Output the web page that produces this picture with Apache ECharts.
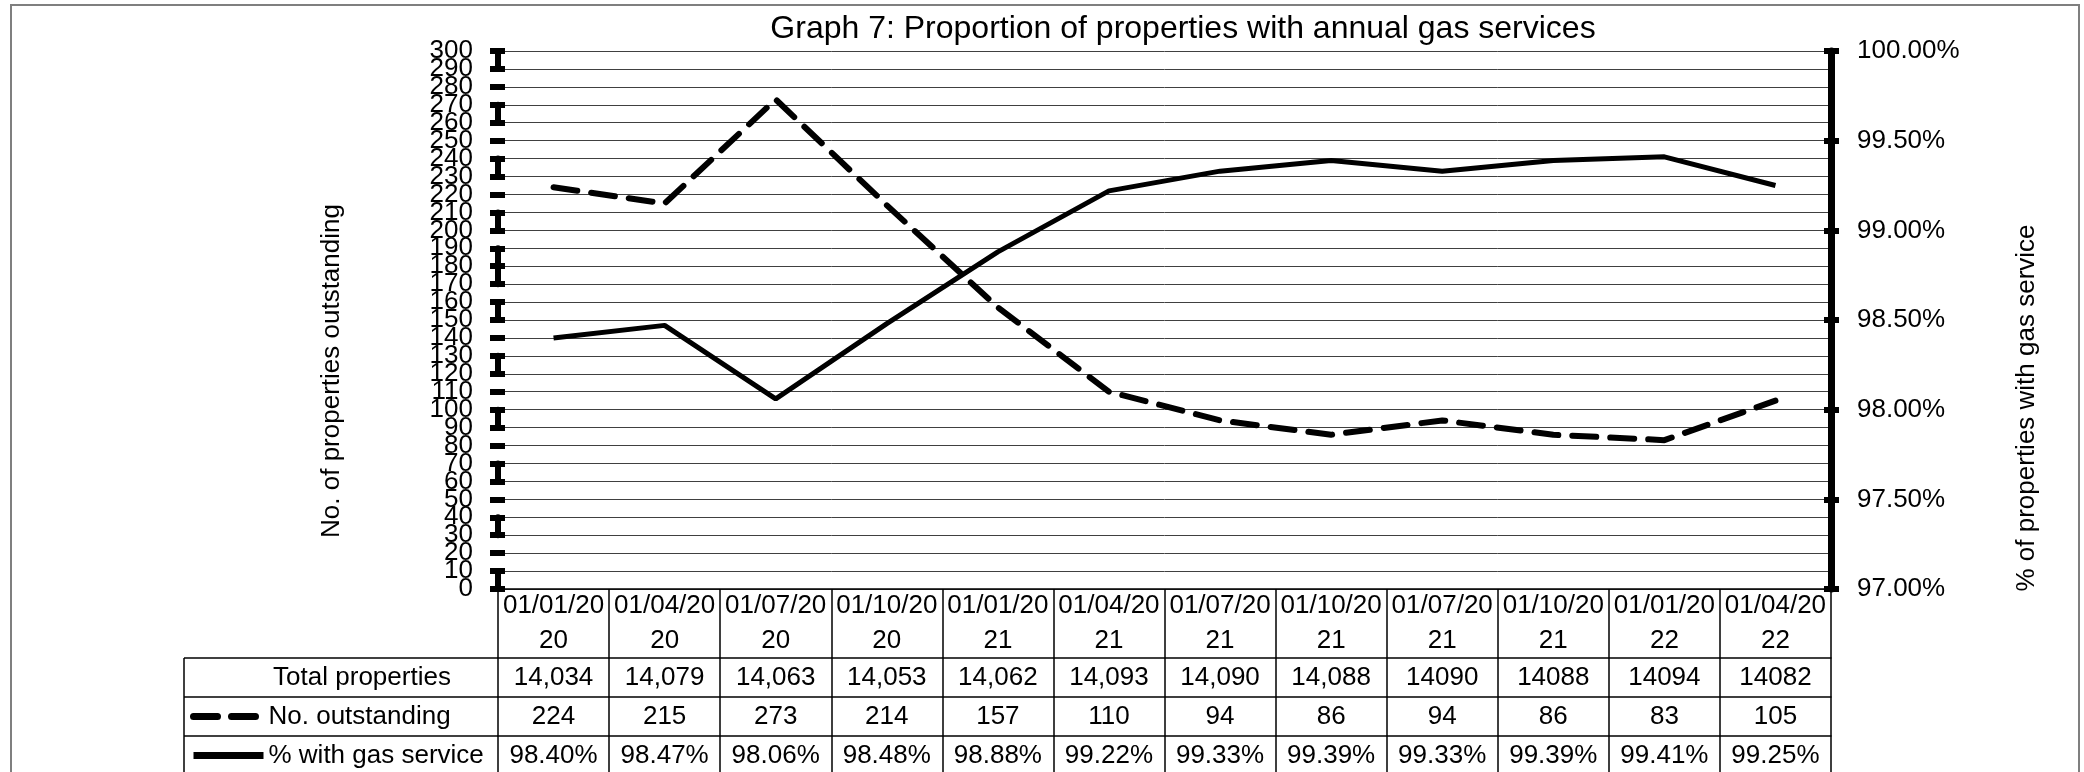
<!DOCTYPE html>
<html>
<head>
<meta charset="utf-8">
<script src="https://cdn.jsdelivr.net/npm/echarts@6/dist/echarts.min.js"></script>
<style>
  html, body { margin: 0; padding: 0; background: #fff; }
  #chart { width: 2084px; height: 772px; }
</style>
</head>
<body>
<div id="chart"></div>
<script>
// ---- data ----
const quarters = ['01/01/2020', '01/04/2020', '01/07/2020', '01/10/2020', '01/01/2021', '01/04/2021',
                  '01/07/2021', '01/10/2021', '01/07/2021', '01/10/2021', '01/01/2022', '01/04/2022'];
const totalProperties = ['14,034', '14,079', '14,063', '14,053', '14,062', '14,093',
                         '14,090', '14,088', '14090', '14088', '14094', '14082'];
const outstanding = [224, 215, 273, 214, 157, 110, 94, 86, 94, 86, 83, 105];
const pctWithService = [98.40, 98.47, 98.06, 98.48, 98.88, 99.22, 99.33, 99.39, 99.33, 99.39, 99.41, 99.25];

const countScale = { min: 0, max: 300, interval: 10 };
const pctScale = { min: 97, max: 100, interval: 0.5 };

const titleText = 'Graph 7: Proportion of properties with annual gas services';
const leftAxisName = 'No. of properties outstanding';
const rightAxisName = '% of properties with gas service';
const rowLabels = ['Total properties', 'No. outstanding', '% with gas service'];

// ---- layout ----
const FONT = '"Liberation Sans", Arial, sans-serif';
const GRID = { left: 498, right: 253, top: 51, bottom: 183 };
const PLOT_H = 772 - GRID.top - GRID.bottom;
const UNIT = PLOT_H / ((countScale.max - countScale.min) / countScale.interval);
const HEADER_H = 69;
const ROW_H = 39;
const AXIS_Y = 772 - GRID.bottom;
const TABLE_LEFT = 184;

// dash pattern of the left axis line, in tick steps, drawn from the bottom up
const leftAxisDash = [1, 2, 1, 2, 1, 2, 1, 2, 1, 2, 1, 1, 2, 1, 1, 2, 1, 2, 1, 2, 1].map(s => s * UNIT);

const leftLabelStyle = { margin: 25, fontSize: 26, color: '#000', fontFamily: FONT, hideOverlap: false };

// one row of the data table, drawn as an extra category axis under the plot
function tableRowAxis(data, offset, formatter) {
  return {
    type: 'category', gridIndex: 0, position: 'bottom', offset: offset,
    data: data, boundaryGap: true,
    axisLine: { show: true, onZero: false, lineStyle: { color: '#000', width: 1.5 } },
    axisTick: { show: true, interval: 0, length: ROW_H, lineStyle: { color: '#000', width: 1.5 } },
    axisLabel: { interval: 0, margin: 0, fontSize: 26, lineHeight: ROW_H, color: '#000',
                 fontFamily: FONT, hideOverlap: false, formatter: formatter },
    splitLine: { show: false }
  };
}

// tick-only companion axis (ticks cross the axis line: one axis per side of it)
function tickAxis(position, scale, inside, extraLabel) {
  return {
    type: 'value', position: position, min: scale.min, max: scale.max, interval: scale.interval,
    axisLine: { show: false },
    axisTick: { show: true, inside: inside, length: inside ? 7 : 8, lineStyle: { color: '#000', width: 6 } },
    axisLabel: extraLabel || { show: false },
    splitLine: { show: false }
  };
}

const chart = echarts.init(document.getElementById('chart'), null, { renderer: 'canvas' });

const option = {
  animation: false,
  backgroundColor: '#fff',
  textStyle: { fontFamily: FONT },
  title: {
    text: titleText,
    left: 1183, top: 13, padding: 0, textAlign: 'center',
    textStyle: { fontSize: 32, fontWeight: 'normal', color: '#000', fontFamily: FONT }
  },
  legend: {
    orient: 'vertical', left: 190, top: AXIS_Y + HEADER_H + ROW_H + 4.5, padding: 0, itemGap: 9,
    itemWidth: 70, itemHeight: 14, selectedMode: false,
    data: [rowLabels[1], rowLabels[2]],
    textStyle: { fontSize: 26, color: '#000', lineHeight: 30, fontFamily: FONT },
    itemStyle: { opacity: 0 },
    lineStyle: { width: 7 }
  },
  grid: { left: GRID.left, right: GRID.right, top: GRID.top, bottom: GRID.bottom,
          containLabel: false, outerBoundsMode: 'none' },
  xAxis: [
    {
      type: 'category', position: 'bottom', data: quarters, boundaryGap: true,
      axisLine: { show: true, onZero: false, lineStyle: { color: '#000', width: 1.5 } },
      axisTick: { show: true, interval: 0, length: HEADER_H, lineStyle: { color: '#000', width: 1.5 } },
      axisLabel: { interval: 0, margin: 0, fontSize: 26, lineHeight: HEADER_H / 2, color: '#000',
                   fontFamily: FONT, hideOverlap: false,
                   formatter: v => v.slice(0, 8) + '\n' + v.slice(8) },
      splitLine: { show: false }
    },
    tableRowAxis(totalProperties, HEADER_H),
    tableRowAxis(outstanding.map(String), HEADER_H + ROW_H),
    tableRowAxis(pctWithService.map(v => v.toFixed(2) + '%'), HEADER_H + 2 * ROW_H)
  ],
  yAxis: [
    {
      // main count axis: dashed line, grid lines and the inner labels
      type: 'value', position: 'left',
      min: countScale.min, max: countScale.max, interval: countScale.interval,
      axisLine: { show: true, onZero: false,
                  lineStyle: { color: '#000', width: 6, type: leftAxisDash } },
      axisTick: { show: false },
      axisLabel: Object.assign({ showMinLabel: false, showMaxLabel: false }, leftLabelStyle),
      splitLine: { show: true, lineStyle: { color: '#404040', width: 1 } }
    },
    {
      type: 'value', position: 'right',
      min: pctScale.min, max: pctScale.max, interval: pctScale.interval,
      axisLine: { show: true, onZero: false, lineStyle: { color: '#000', width: 7 } },
      axisTick: { show: true, length: 8, lineStyle: { color: '#000', width: 6 } },
      axisLabel: { margin: 26, fontSize: 26, color: '#000', fontFamily: FONT,
                   showMinLabel: true, showMaxLabel: true,
                   formatter: v => v.toFixed(2) + '%' },
      splitLine: { show: false }
    },
    // outer ticks of the count axis, plus its end labels
    tickAxis('left', countScale, false,
             Object.assign({ customValues: [countScale.min, countScale.max] }, leftLabelStyle)),
    tickAxis('left', countScale, true),
    tickAxis('right', pctScale, true)
  ],
  series: [
    {
      name: rowLabels[1], type: 'line', xAxisIndex: 0, yAxisIndex: 0,
      data: outstanding, symbol: 'none', z: 5,
      lineStyle: { color: '#000', width: 6, type: [24, 14], cap: 'round' }
    },
    {
      name: rowLabels[2], type: 'line', xAxisIndex: 0, yAxisIndex: 1,
      data: pctWithService, symbol: 'none', z: 5,
      lineStyle: { color: '#000', width: 5 }
    }
  ],
  graphic: [
    // outer chart frame
    { type: 'rect', shape: { x: 11, y: 5, width: 2068, height: 820 },
      style: { fill: 'none', stroke: '#7f7f7f', lineWidth: 2 }, z: -1, silent: true },
    // row-header column of the data table
    { type: 'line', shape: { x1: TABLE_LEFT, y1: AXIS_Y + HEADER_H, x2: GRID.left, y2: AXIS_Y + HEADER_H },
      style: { stroke: '#000', lineWidth: 1.5 }, silent: true },
    { type: 'line', shape: { x1: TABLE_LEFT, y1: AXIS_Y + HEADER_H + ROW_H, x2: GRID.left, y2: AXIS_Y + HEADER_H + ROW_H },
      style: { stroke: '#000', lineWidth: 1.5 }, silent: true },
    { type: 'line', shape: { x1: TABLE_LEFT, y1: AXIS_Y + HEADER_H + 2 * ROW_H, x2: GRID.left, y2: AXIS_Y + HEADER_H + 2 * ROW_H },
      style: { stroke: '#000', lineWidth: 1.5 }, silent: true },
    { type: 'line', shape: { x1: TABLE_LEFT, y1: AXIS_Y + HEADER_H, x2: TABLE_LEFT, y2: 780 },
      style: { stroke: '#000', lineWidth: 1.5 }, silent: true },
    { type: 'text', x: 362, y: AXIS_Y + HEADER_H + ROW_H / 2, silent: true,
      style: { text: rowLabels[0], fontSize: 26, fill: '#000', fontFamily: FONT,
               align: 'center', verticalAlign: 'middle' } },
    // axis titles
    { type: 'text', x: 332, y: 371, rotation: Math.PI / 2, silent: true,
      style: { text: leftAxisName, fontSize: 26, fill: '#000', fontFamily: FONT,
               align: 'center', verticalAlign: 'middle' } },
    { type: 'text', x: 2027, y: 408, rotation: Math.PI / 2, silent: true,
      style: { text: rightAxisName, fontSize: 26, fill: '#000', fontFamily: FONT,
               align: 'center', verticalAlign: 'middle' } }
  ]
};

chart.setOption(option);
</script>
</body>
</html>
